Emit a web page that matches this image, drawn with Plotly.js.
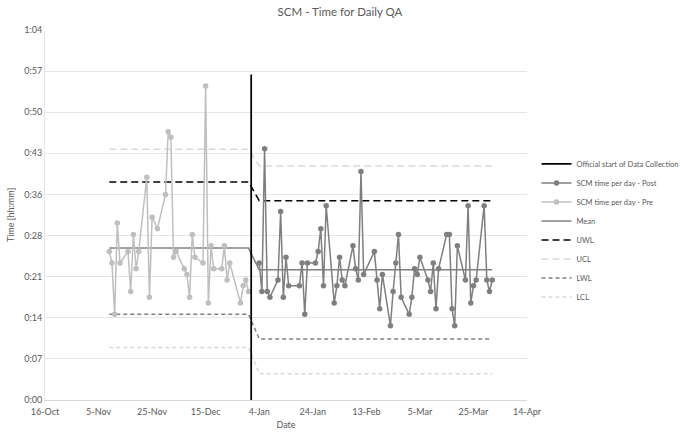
<!DOCTYPE html>
<html>
<head>
<meta charset="utf-8">
<script src="https://cdn.plot.ly/plotly-3.0.1.min.js"></script>
<style>
  body { margin: 0; background: #fff; }
  #chart { width: 680px; height: 433px; }
</style>
</head>
<body>
<div id="chart"></div>
<script>
// daily QA time in minutes, before the official start
const preDates = [
  "2018-11-09", "2018-11-10", "2018-11-11", "2018-11-12", "2018-11-13",
  "2018-11-16", "2018-11-17", "2018-11-18", "2018-11-19", "2018-11-20",
  "2018-11-23", "2018-11-24", "2018-11-25", "2018-11-27", "2018-11-30",
  "2018-12-01", "2018-12-02", "2018-12-03", "2018-12-04", "2018-12-07",
  "2018-12-08", "2018-12-09", "2018-12-10", "2018-12-11", "2018-12-14",
  "2018-12-15", "2018-12-16", "2018-12-17", "2018-12-18", "2018-12-21",
  "2018-12-22", "2018-12-23", "2018-12-24", "2018-12-28", "2018-12-29",
  "2018-12-30", "2018-12-31"
];
const preTimes = [
  26, 24, 15, 31, 24,
  26, 19, 29, 23, 26,
  39, 18, 32, 30, 36,
  47, 46, 25, 26, 23,
  22, 18, 29, 25, 24,
  55, 17, 27, 23, 23,
  27, 21, 24, 17, 20,
  21, 19
];

// after the official start
const postDates = [
  "2019-01-04", "2019-01-05", "2019-01-06", "2019-01-07", "2019-01-08",
  "2019-01-11", "2019-01-12", "2019-01-13", "2019-01-14", "2019-01-15",
  "2019-01-19", "2019-01-20", "2019-01-21", "2019-01-22", "2019-01-25",
  "2019-01-26", "2019-01-27", "2019-01-28", "2019-01-29", "2019-02-01",
  "2019-02-02", "2019-02-03", "2019-02-04", "2019-02-05", "2019-02-08",
  "2019-02-09", "2019-02-10", "2019-02-11", "2019-02-12", "2019-02-16",
  "2019-02-17", "2019-02-18", "2019-02-19", "2019-02-22", "2019-02-23",
  "2019-02-24", "2019-02-25", "2019-02-26", "2019-03-01", "2019-03-02",
  "2019-03-03", "2019-03-04", "2019-03-05", "2019-03-08", "2019-03-09",
  "2019-03-10", "2019-03-11", "2019-03-12", "2019-03-15", "2019-03-16",
  "2019-03-17", "2019-03-18", "2019-03-19", "2019-03-22", "2019-03-23",
  "2019-03-24", "2019-03-25", "2019-03-26", "2019-03-29", "2019-03-30",
  "2019-03-31", "2019-04-01"
];
const postTimes = [
  24, 19, 44, 19, 18,
  21, 33, 18, 25, 20,
  20, 24, 15, 24, 24,
  26, 30, 20, 34, 17,
  20, 25, 21, 20, 27,
  23, 21, 40, 22, 26,
  21, 16, 22, 13, 19,
  24, 29, 18, 15, 18,
  23, 22, 25, 21, 19,
  24, 16, 23, 29, 29,
  16, 13, 27, 21, 34,
  17, 20, 21, 34, 21,
  19, 21
];

// control limits (minutes) for each period
const limitNames = ["Mean", "UWL", "UCL", "LWL", "LCL"];
const preLimits = [26.6, 38.2, 43.9, 15.0, 9.2];
const postLimits = [22.8, 34.9, 41.0, 10.7, 4.6];

const startDate = "2019-01-01";
const startLine = [0, 57];

// y axis ticks every 0.005 day (7.2 min), labels truncated like the sheet
const yTickVals = [0, 7.2, 14.4, 21.6, 28.8, 36, 43.2, 50.4, 57.6, 64.8];
const yTickText = ["0:00", "0:07", "0:14", "0:21", "0:28", "0:36", "0:43", "0:50", "0:57", "1:04"];

const limitStyles = {
  Mean: { color: "#808080", width: 1.5, dash: "solid" },
  UWL: { color: "#000000", width: 1.5, dash: "7px,4px" },
  UCL: { color: "#d9d9d9", width: 1.5, dash: "7px,4px" },
  LWL: { color: "#808080", width: 1.5, dash: "4px,3px" },
  LCL: { color: "#d9d9d9", width: 1.5, dash: "4px,3px" },
};

const allDates = preDates.concat(postDates);

const limitTraces = limitNames.map((name, i) => ({
  x: allDates,
  y: preDates.map(() => preLimits[i]).concat(postDates.map(() => postLimits[i])),
  name: name,
  type: "scatter",
  mode: "lines",
  line: limitStyles[name],
  legendrank: 3 + i,
  hoverinfo: "skip",
}));

const preTrace = {
  x: preDates,
  y: preTimes,
  name: "SCM time per day - Pre",
  type: "scatter",
  mode: "lines+markers",
  line: { color: "#bfbfbf", width: 1.5 },
  marker: { color: "#bfbfbf", size: 5.5 },
  legendrank: 2,
};

const postTrace = {
  x: postDates,
  y: postTimes,
  name: "SCM time per day - Post",
  type: "scatter",
  mode: "lines+markers",
  line: { color: "#7f7f7f", width: 1.5 },
  marker: { color: "#7f7f7f", size: 5.5 },
  legendrank: 1,
};

const startTrace = {
  x: [startDate, startDate],
  y: startLine,
  name: "Official start of Data Collection",
  type: "scatter",
  mode: "lines",
  line: { color: "#000000", width: 1.75 },
  legendrank: 0,
};

const traces = limitTraces.concat([preTrace, postTrace, startTrace]);

const textColor = "#595959";

const layout = {
  width: 680,
  height: 433,
  font: { family: "Lato, 'Open Sans', sans-serif", size: 9, color: textColor },
  title: {
    text: "SCM - Time for Daily QA",
    font: { size: 11.5, color: textColor },
    x: 0.5,
    xref: "container",
    y: 0.982,
    yref: "container",
  },
  margin: { l: 45, r: 153, t: 30, b: 33, autoexpand: false },
  paper_bgcolor: "#ffffff",
  plot_bgcolor: "#ffffff",
  showlegend: true,
  legend: {
    xref: "container",
    yref: "container",
    x: 0.789,
    xanchor: "left",
    y: 0.655,
    yanchor: "top",
    font: { size: 7.5, color: textColor },
    itemwidth: 30,
    bgcolor: "rgba(0,0,0,0)",
  },
  xaxis: {
    type: "date",
    range: ["2018-10-16", "2019-04-14"],
    tick0: "2018-10-16",
    dtick: 20 * 86400000,
    tickformat: "%-d-%b",
    showgrid: false,
    showline: true,
    linecolor: "#d9d9d9",
    linewidth: 1,
    ticks: "",
    ticklabelstandoff: 3,
    zeroline: false,
    title: { text: "Date", font: { size: 9, color: textColor }, standoff: 5 },
  },
  yaxis: {
    range: [0, 64.8],
    tickvals: yTickVals,
    ticktext: yTickText,
    showgrid: true,
    gridcolor: "#e6e6e6",
    gridwidth: 1,
    showline: true,
    linecolor: "#e6e6e6",
    zeroline: false,
    ticks: "",
    title: { text: "Time [hh:mm]", font: { size: 9, color: textColor }, standoff: 8 },
  },
};

Plotly.newPlot("chart", traces, layout, { displayModeBar: false, staticPlot: true });
</script>
</body>
</html>
